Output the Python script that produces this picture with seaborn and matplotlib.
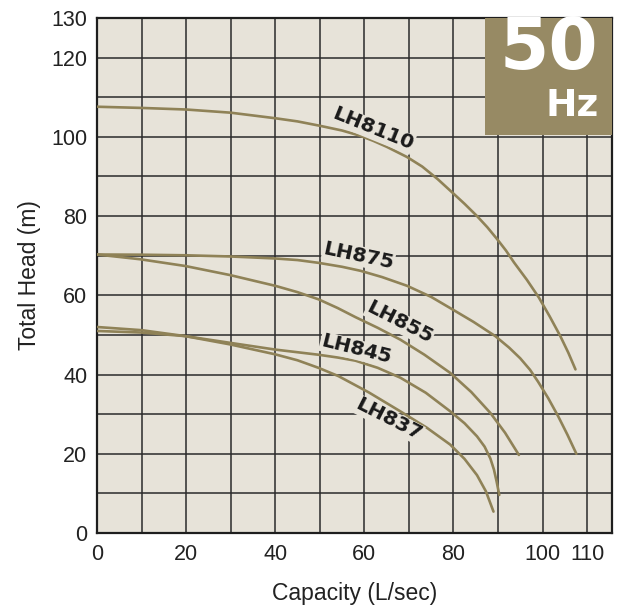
import pandas as pd
import matplotlib.pyplot as plt
from matplotlib.patches import Rectangle
import seaborn as sns

# Pump performance curves (capacity L/sec, head m)
lh8110_q = [0, 10, 20, 30, 40, 45, 50, 55, 59, 62, 65, 69.6, 73, 76.5, 79.7, 82.5, 85.3, 87.6,
            89.8, 91.8, 93.6, 96.5, 99.2, 101.6, 104, 105.8, 107.4]
lh8110_h = [107.6, 107.3, 106.9, 106.1, 104.7, 103.9, 102.8, 101.6, 100.3, 99, 97.5, 94.9, 92.5,
            89.3, 86, 83.1, 80, 77.2, 74.2, 71.3, 68.3, 63.9, 59.4, 54.7, 49.7, 45.5, 41.3]

lh875_q = [0, 10, 20, 30, 40, 45, 49.7, 55, 59.1, 64, 69.6, 75, 79.7, 84.5, 89.4, 92.5, 95, 97.2,
           99, 101.3, 103.5, 105.6, 107.6]
lh875_h = [70.3, 70.25, 70.1, 69.8, 69.3, 68.9, 68.2, 67.2, 66.2, 64.6, 62.4, 59.6, 56.5, 53.3,
           49.7, 46.8, 44.1, 41.2, 38.2, 34, 29.5, 24.8, 20]

lh855_q = [0, 9.7, 19.8, 29.9, 40, 45, 49.7, 54, 58, 63, 68.1, 73.5, 79.3, 84, 88.3, 91.6, 94.7]
lh855_h = [70.3, 69.1, 67.4, 65.1, 62.4, 60.8, 59, 56.8, 54.5, 51.8, 48.8, 45, 40.4, 35.6, 30.3,
           25.3, 19.7]

lh845_q = [0, 10, 19.8, 29.9, 40, 49.7, 54, 58, 63, 68.1, 73.8, 79.3, 82.5, 85.3, 87, 88.3, 89.1,
           89.7, 90.3]
lh845_h = [51, 50.6, 49.7, 48, 46.3, 45, 44.3, 43.5, 41.7, 39.2, 35.4, 30.7, 27.7, 24.4, 21.8,
           18.8, 16, 13, 9.6]

lh837_q = [0, 10, 19.8, 29.9, 40, 45, 49.7, 54.2, 61, 68.1, 74, 79.3, 82.5, 85.3, 87.3, 89]
lh837_h = [52, 51.2, 49.7, 47.6, 45.1, 43.6, 41.7, 39.6, 35.5, 30.7, 26.6, 22.3, 18.7, 14.6,
           10.5, 5.4]

models = ['LH8110', 'LH875', 'LH855', 'LH845', 'LH837']
curves = [(lh8110_q, lh8110_h), (lh875_q, lh875_h), (lh855_q, lh855_h),
          (lh845_q, lh845_h), (lh837_q, lh837_h)]

# curve labels: position (q, h) and rotation
label_q = [61.9, 58.7, 67.9, 58.1, 65.5]
label_h = [101.9, 69.9, 53.1, 46.3, 28.6]
label_rot = [-22, -12, -27, -14, -27]

x_ticks = [0, 20, 40, 60, 80, 100, 110]
y_ticks = [0, 20, 40, 60, 80, 100, 120, 130]

bg = '#e7e3d9'
olive = '#8f8257'
box_color = '#978a64'

rows = []
for name, (q, h) in zip(models, curves):
    for a, b in zip(q, h):
        rows.append({'model': name, 'capacity': a, 'head': b})
df = pd.DataFrame(rows)

sns.set_style('ticks')
plt.rcParams['font.family'] = ['Liberation Sans', 'DejaVu Sans']

fig = plt.figure(figsize=(6.21, 6.08), dpi=100)
ax = fig.add_axes([97 / 621, 75 / 608, 515 / 621, 515 / 608])
ax.set_facecolor(bg)

sns.lineplot(data=df, x='capacity', y='head', hue='model', palette={m: olive for m in models},
             sort=False, estimator=None, legend=False, linewidth=1.9, ax=ax, zorder=4)

ax.set_xlim(0, 115.6)
ax.set_ylim(0, 130)
ax.set_xticks(x_ticks)
ax.set_xticks([10, 30, 50, 70, 90], minor=True)
ax.set_yticks(y_ticks)
ax.set_yticks([10, 30, 50, 70, 90, 110], minor=True)
ax.tick_params(which='both', length=0, labelsize=15.5, colors='#222222')
ax.tick_params(axis='y', pad=7)
ax.tick_params(axis='x', pad=8)
ax.grid(which='both', color='#2b2b2b', linewidth=1.1, zorder=1)
ax.set_axisbelow(True)
for s in ax.spines.values():
    s.set_color('#1e1e1e')
    s.set_linewidth(1.6)

ax.set_xlabel('Capacity (L/sec)', fontsize=16.5, color='#222222', labelpad=12)
ax.set_ylabel('Total Head (m)', fontsize=16.5, color='#222222', labelpad=7)

for name, q, h, r in zip(models, label_q, label_h, label_rot):
    ax.text(q, h, name, rotation=r, rotation_mode='anchor', ha='center', va='center',
            fontsize=14.5, fontweight='bold', family='DejaVu Sans', color='#1a1a1a', zorder=5,
            bbox=dict(facecolor=bg, edgecolor='none', pad=0.5))

# 50 Hz badge in the top right corner
ax.add_patch(Rectangle((87, 100.5), 30, 30, facecolor=box_color, edgecolor='none', zorder=3))
ax.text(112.6, 122.1, '50', ha='right', va='center', fontsize=51, fontweight='bold',
        family='DejaVu Sans', color='white', zorder=6)
ax.text(112.6, 107.8, 'Hz', ha='right', va='center', fontsize=27, fontweight='bold',
        family='DejaVu Sans', color='white', zorder=6)

plt.savefig('out.png', dpi=100)
